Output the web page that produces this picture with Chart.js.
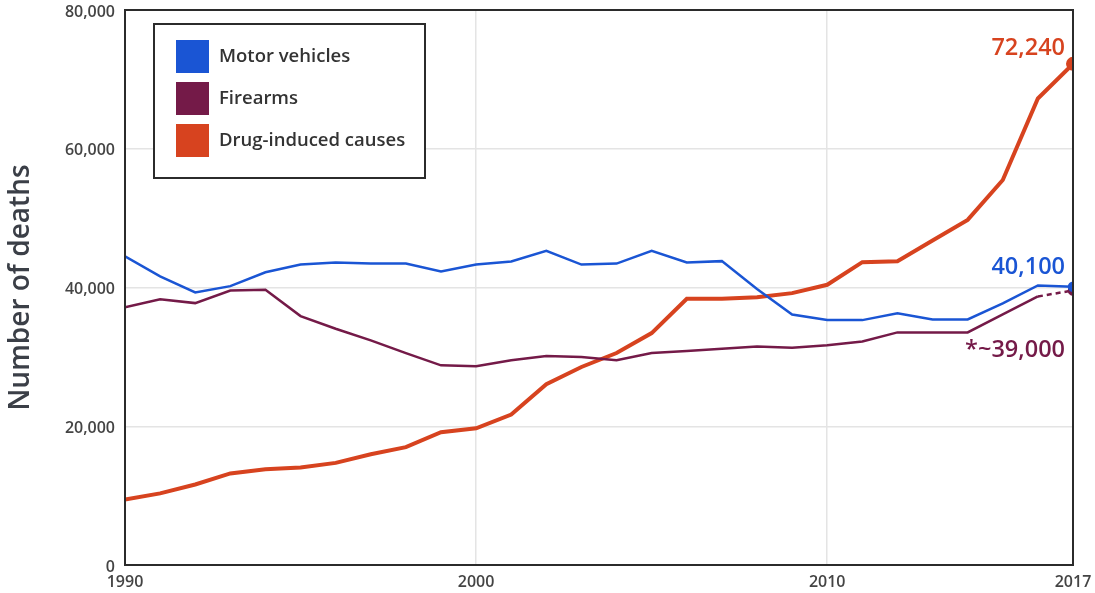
<!DOCTYPE html>
<html>
<head>
<meta charset="utf-8">
<script src="https://cdn.jsdelivr.net/npm/chart.js@4.4.1/dist/chart.umd.min.js"></script>
<style>
  html, body { margin: 0; padding: 0; background: #fff; }
  #wrap { width: 1095px; height: 593px; position: relative; }
</style>
</head>
<body>
<div id="wrap"><canvas id="chart"></canvas></div>
<script>
// datos
const years = [1990, 1991, 1992, 1993, 1994, 1995, 1996, 1997, 1998, 1999,
               2000, 2001, 2002, 2003, 2004, 2005, 2006, 2007, 2008, 2009,
               2010, 2011, 2012, 2013, 2014, 2015, 2016, 2017];

const motorVehicles = [44500, 41600, 39300, 40200, 42200, 43300, 43600, 43450, 43450, 42300,
                       43300, 43750, 45300, 43300, 43450, 45300, 43600, 43800, 39800, 36100,
                       35300, 35300, 36300, 35400, 35400, 37700, 40300, 40100];

const firearms = [37150, 38300, 37750, 39570, 39670, 35880, 34060, 32380, 30550, 28780,
                  28640, 29500, 30120, 29980, 29500, 30550, 30840, 31180, 31510, 31320,
                  31660, 32230, 33530, 33530, 33530, 36120, 38710, 39570];

const drugInduced = [9450, 10320, 11610, 13200, 13810, 14060, 14720, 15970, 16980, 19140,
                     19710, 21690, 26050, 28540, 30550, 33430, 38380, 38380, 38610, 39190,
                     40390, 43650, 43790, 46770, 49740, 55500, 67250, 72240];

const xTicks = [1990, 2000, 2010, 2017];
const yTicks = [0, 20000, 40000, 60000, 80000];

const seriesNames = ['Motor vehicles', 'Firearms', 'Drug-induced causes'];
const seriesColors = ['#1a55d4', '#741a48', '#d7431f'];
const endLabels = ['40,100', '*~39,000', '72,240'];

const FONT = "'Open Sans'";
const toXY = arr => arr.map((v, i) => ({ x: years[i], y: v }));

// marco completo del area del grafico
const framePlugin = {
    id: 'frame',
    afterDraw(chart) {
        const { ctx, chartArea: a } = chart;
        ctx.save();
        ctx.strokeStyle = '#2b2b2b';
        ctx.lineWidth = 2;
        ctx.strokeRect(a.left, a.top, a.right - a.left, a.bottom - a.top);
        ctx.restore();
    }
};

// leyenda dentro del grafico
const legendPlugin = {
    id: 'boxLegend',
    afterDraw(chart) {
        const ctx = chart.ctx;
        ctx.save();
        ctx.fillStyle = '#fff';
        ctx.fillRect(154, 24, 271, 154);
        ctx.strokeStyle = '#2b2b2b';
        ctx.lineWidth = 2;
        ctx.strokeRect(154, 24, 271, 154);
        ctx.font = '600 18.5px ' + FONT;
        ctx.textBaseline = 'middle';
        seriesNames.forEach((name, i) => {
            const y = 40 + i * 42;
            ctx.fillStyle = seriesColors[i];
            ctx.fillRect(176, y, 33, 33);
            ctx.fillStyle = '#333';
            ctx.fillText(name, 219, y + 17);
        });
        ctx.restore();
    }
};

// etiquetas al final de cada linea
const endLabelPlugin = {
    id: 'endLabels',
    afterDatasetsDraw(chart) {
        const ctx = chart.ctx;
        const xs = chart.scales.x, ys = chart.scales.y;
        ctx.save();
        ctx.font = '600 23.5px ' + FONT;
        ctx.textAlign = 'right';
        ctx.textBaseline = 'middle';
        const last = years.length - 1;
        const offsets = [-19, 60, -16];
        [motorVehicles, firearms, drugInduced].forEach((arr, i) => {
            ctx.fillStyle = seriesColors[i];
            ctx.fillText(endLabels[i], xs.getPixelForValue(years[last]) - 8,
                         ys.getPixelForValue(arr[last]) + offsets[i]);
        });
        ctx.restore();
    }
};

new Chart(document.getElementById('chart'), {
    type: 'line',
    data: {
        datasets: [
            {
                label: seriesNames[0],
                data: toXY(motorVehicles),
                borderColor: seriesColors[0],
                backgroundColor: seriesColors[0],
                borderWidth: 2.5,
                pointRadius: ctx => ctx.dataIndex === years.length - 1 ? 4 : 0
            },
            {
                label: seriesNames[1],
                data: toXY(firearms),
                borderColor: seriesColors[1],
                backgroundColor: seriesColors[1],
                borderWidth: 2.5,
                pointRadius: ctx => ctx.dataIndex === years.length - 1 ? 4 : 0,
                segment: {
                    borderDash: ctx => ctx.p1DataIndex === years.length - 1 ? [5, 4] : undefined
                }
            },
            {
                label: seriesNames[2],
                data: toXY(drugInduced),
                borderColor: seriesColors[2],
                backgroundColor: seriesColors[2],
                borderWidth: 4,
                pointRadius: ctx => ctx.dataIndex === years.length - 1 ? 5 : 0
            }
        ]
    },
    options: {
        responsive: true,
        maintainAspectRatio: false,
        animation: false,
        layout: { padding: { top: 10, right: 22, left: 0, bottom: 0 } },
        plugins: {
            legend: { display: false },
            tooltip: { enabled: false }
        },
        scales: {
            x: {
                type: 'linear',
                min: 1990,
                max: 2017,
                afterBuildTicks: s => { s.ticks = xTicks.map(v => ({ value: v })); },
                afterFit: s => { s.height = 28; s.paddingLeft = 0; s.paddingRight = 0; },
                ticks: {
                    callback: v => String(v),
                    color: '#444',
                    font: { family: FONT, size: 16, weight: '600' },
                    padding: 8,
                    maxRotation: 0
                },
                grid: { color: '#e4e4e4', lineWidth: 1.5, drawTicks: false },
                border: { display: false }
            },
            y: {
                min: 0,
                max: 80000,
                afterBuildTicks: s => { s.ticks = yTicks.map(v => ({ value: v })); },
                afterFit: s => { s.width = 125; s.paddingTop = 0; s.paddingBottom = 0; },
                ticks: {
                    callback: v => v.toLocaleString('en-US'),
                    color: '#444',
                    font: { family: FONT, size: 16, weight: '600' },
                    padding: 10,
                    labelOffset: 2
                },
                grid: { color: '#e4e4e4', lineWidth: 1.5, drawTicks: false },
                border: { display: false },
                title: {
                    display: true,
                    text: 'Number of deaths',
                    color: '#3b3f47',
                    font: { family: FONT, size: 28, weight: '600' },
                    padding: { top: 4, bottom: 0 }
                }
            }
        }
    },
    plugins: [framePlugin, legendPlugin, endLabelPlugin]
});
</script>
</body>
</html>
